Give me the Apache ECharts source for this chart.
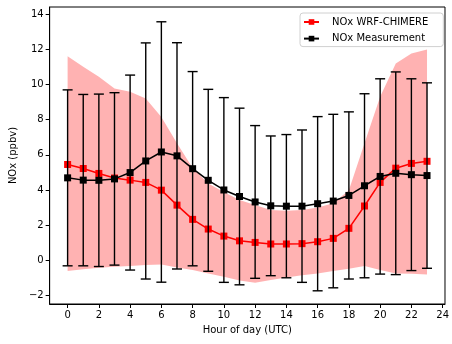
<!DOCTYPE html>
<html>
<head>
<meta charset="utf-8">
<script src="https://cdn.jsdelivr.net/npm/echarts@6/dist/echarts.min.js"></script>
<style>
  html, body { margin: 0; padding: 0; background: #fff; }
  #chart { width: 452px; height: 344px; }
</style>
</head>
<body>
<div id="chart"></div>
<script>
// Hour of day (UTC)
const hours = [0, 1, 2, 3, 4, 5, 6, 7, 8, 9, 10, 11, 12, 13, 14, 15, 16, 17, 18, 19, 20, 21, 22, 23];

// Modelled NOx (ppbv), hourly mean
const modelNOx = [5.45, 5.22, 4.94, 4.68, 4.56, 4.43, 3.99, 3.14, 2.33, 1.78, 1.38, 1.11,
                  1.02, 0.93, 0.93, 0.95, 1.06, 1.25, 1.82, 3.09, 4.43, 5.24, 5.51, 5.63];
// Modelled NOx spread (ppbv): lower and upper edge of the shaded band
const modelLow  = [-0.61, -0.51, -0.42, -0.36, -0.32, -0.27, -0.23, -0.40, -0.55, -0.74, -0.93, -1.15,
                   -1.27, -1.12, -0.97, -0.85, -0.74, -0.61, -0.48, -0.32, -0.55, -0.74, -0.76, -0.80];
const modelHigh = [11.60, 11.00, 10.43, 9.77, 9.58, 9.20, 8.15, 6.65, 5.25, 4.37, 3.88, 3.43,
                   3.14, 2.86, 2.82, 2.86, 3.01, 3.24, 3.99, 6.65, 9.30, 11.19, 11.76, 11.99];

// Measured NOx (ppbv): hourly mean and standard deviation
const measMean = [4.69, 4.56, 4.55, 4.63, 4.99, 5.65, 6.16, 5.94, 5.21, 4.55, 4.00, 3.63,
                  3.32, 3.10, 3.08, 3.08, 3.22, 3.37, 3.69, 4.24, 4.77, 4.95, 4.87, 4.82];
const measStd  = [5.00, 4.87, 4.90, 4.90, 5.54, 6.71, 7.40, 6.43, 5.52, 5.17, 5.25, 5.02,
                  4.34, 3.97, 4.07, 4.33, 4.95, 4.93, 4.75, 5.23, 5.55, 5.76, 5.45, 5.27];

// Axis tick labels
const xTicks = [0, 2, 4, 6, 8, 10, 12, 14, 16, 18, 20, 22, 24];
const yTicks = [-2, 0, 2, 4, 6, 8, 10, 12, 14];

const FONT = '"DejaVu Sans", sans-serif';
const chart = echarts.init(document.getElementById('chart'), null, { renderer: 'canvas' });

const bandData = hours.map((h, i) => [h, modelLow[i], modelHigh[i]]);
const errData = hours.map((h, i) => [h, measMean[i] - measStd[i], measMean[i] + measStd[i]]);

const option = {
  animation: false,
  backgroundColor: '#fff',
  grid: {
    left: 49, top: 7, right: 6, bottom: 40,
    show: true, borderColor: '#000', borderWidth: 1, backgroundColor: 'transparent'
  },
  legend: {
    orient: 'vertical',
    left: 300, top: 13,
    padding: [3, 15, 2, 3],
    itemGap: 4.6,
    itemWidth: 15, itemHeight: 7,
    borderColor: '#d0d0d0', borderWidth: 1, borderRadius: 3,
    backgroundColor: 'rgba(255,255,255,0.85)',
    textStyle: { fontFamily: FONT, fontSize: 10, color: '#000', lineHeight: 12, padding: [0, 0, 0, 8] },
    data: ['NOx WRF-CHIMERE', 'NOx Measurement']
  },
  xAxis: {
    type: 'value', min: -1.15, max: 24.15,
    name: 'Hour of day (UTC)', nameLocation: 'middle', nameGap: 21,
    nameTextStyle: { fontFamily: FONT, fontSize: 10, color: '#000' },
    axisLine: { show: true, onZero: false, lineStyle: { color: '#000', width: 1 } },
    axisTick: { show: true, inside: false, length: 4, lineStyle: { color: '#000' }, customValues: xTicks },
    axisLabel: { fontFamily: FONT, fontSize: 10, color: '#000', margin: 6, customValues: xTicks },
    splitLine: { show: false }
  },
  yAxis: {
    type: 'value', min: -2.48, max: 14.4,
    name: 'NOx (ppbv)', nameLocation: 'middle', nameGap: 30,
    nameTextStyle: { fontFamily: FONT, fontSize: 10, color: '#000' },
    axisLine: { show: true, onZero: false, lineStyle: { color: '#000', width: 1 } },
    axisTick: { show: true, inside: false, length: 4, lineStyle: { color: '#000' }, customValues: yTicks },
    axisLabel: {
      fontFamily: FONT, fontSize: 10, color: '#000', margin: 6, customValues: yTicks,
      formatter: v => String(v).replace('-', '\u2212')
    },
    splitLine: { show: false }
  },
  series: [
    {
      // shaded spread of the model
      type: 'custom',
      name: 'band',
      silent: true,
      z: 1,
      data: bandData,
      encode: { x: 0, y: [1, 2] },
      renderItem: function (params, api) {
        if (params.dataIndex !== 0) return null;
        const pts = [];
        for (let j = 0; j < hours.length; j++) pts.push(api.coord([hours[j], modelHigh[j]]));
        for (let j = hours.length - 1; j >= 0; j--) pts.push(api.coord([hours[j], modelLow[j]]));
        return {
          type: 'polygon',
          shape: { points: pts },
          style: { fill: 'rgba(255,0,0,0.3)', stroke: 'none' }
        };
      }
    },
    {
      name: 'NOx WRF-CHIMERE',
      type: 'line',
      z: 3,
      data: hours.map((h, i) => [h, modelNOx[i]]),
      symbol: 'rect', symbolSize: 7,
      lineStyle: { color: '#ff0000', width: 1.5 },
      itemStyle: { color: '#ff0000' }
    },
    {
      // measurement error bars (mean ± std)
      type: 'custom',
      name: 'errbars',
      silent: true,
      z: 4,
      data: errData,
      encode: { x: 0, y: [1, 2] },
      renderItem: function (params, api) {
        const x = api.value(0);
        const lo = api.coord([x, api.value(1)]);
        const hi = api.coord([x, api.value(2)]);
        const cap = 5;
        const st = { stroke: '#000', lineWidth: 1.4 };
        return {
          type: 'group',
          children: [
            { type: 'line', shape: { x1: lo[0], y1: lo[1], x2: hi[0], y2: hi[1] }, style: st },
            { type: 'line', shape: { x1: hi[0] - cap, y1: hi[1], x2: hi[0] + cap, y2: hi[1] }, style: st },
            { type: 'line', shape: { x1: lo[0] - cap, y1: lo[1], x2: lo[0] + cap, y2: lo[1] }, style: st }
          ]
        };
      }
    },
    {
      name: 'NOx Measurement',
      type: 'line',
      z: 5,
      data: hours.map((h, i) => [h, measMean[i]]),
      symbol: 'rect', symbolSize: 7,
      lineStyle: { color: '#000', width: 1.5 },
      itemStyle: { color: '#000' }
    }
  ]
};

chart.setOption(option);
</script>
</body>
</html>
